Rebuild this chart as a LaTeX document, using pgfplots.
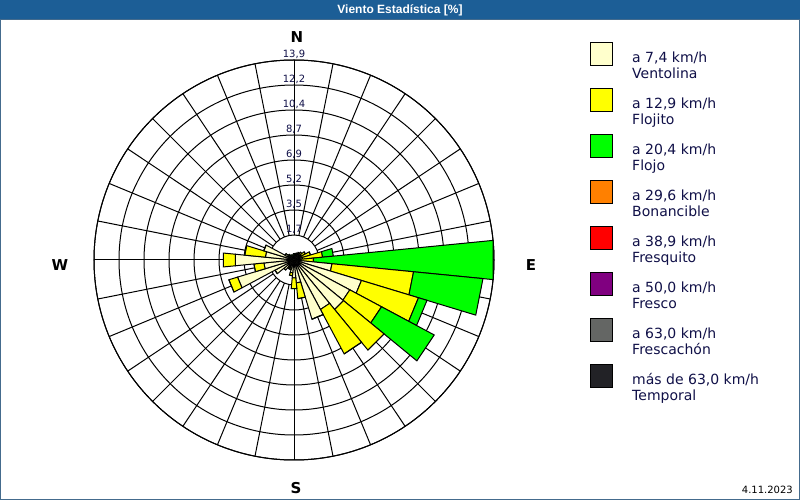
\documentclass[border=0pt]{standalone}
\usepackage{pgfplots}
\pgfplotsset{compat=1.18}
\usepackage{pgfplotstable}
\usepgfplotslibrary{polar}
\usepackage{fontspec}
\setmainfont{DejaVu Sans}
\newfontfamily\capfont{Liberation Sans}

\definecolor{cVent}{RGB}{255,255,204}
\definecolor{cFlojito}{RGB}{255,255,0}
\definecolor{cFlojo}{RGB}{0,255,0}
\definecolor{cBonan}{RGB}{255,128,0}
\definecolor{cFresq}{RGB}{255,0,0}
\definecolor{cFresco}{RGB}{128,0,128}
\definecolor{cFrescach}{RGB}{100,102,100}
\definecolor{cTemp}{RGB}{34,34,38}
\definecolor{txt}{RGB}{16,16,72}
\definecolor{titlebar}{RGB}{28,94,150}

% share in % per direction (0 = N, clockwise, 32 sectors) and speed class
% v: ventolina, f: flojito, F: flojo
\pgfplotstableread{
dir v    f    F
0   0.35 0.10 0
1   0.35 0.10 0
2   0.40 0.10 0
3   0.45 0.15 0
4   0.50 0.20 0
5   0.55 0.35 0
6   0.55 0.65 0
7   0.60 1.40 0.75
8   0.50 0.85 12.55
9   2.65 5.70 4.85
10  4.90 4.14 0.62
11  4.40 2.50 4.15
12  4.45 3.65 0
13  3.90 3.50 0
14  4.30 0    0
15  1.60 1.10 0
16  1.25 0.75 0
17  0.90 0.20 0
18  0.60 0.10 0
19  0.60 0.10 0
20  0.90 0    0
21  1.50 0    0
22  4.10 0.63 0
23  2.10 0.70 0
24  4.10 0.83 0
25  2.00 1.44 0
26  2.20 0    0
27  0.70 0    0
28  0.50 0    0
29  0.40 0    0
30  0.35 0    0
31  0.35 0    0
}\rose

\begin{document}
\begin{tikzpicture}[x=1pt,y=1pt]
\useasboundingbox (0,0) rectangle (800,500);
\fill[white] (0,0) rectangle (800,500);
\fill[titlebar] (0,480) rectangle (800,500);
\node[white, font=\capfont\bfseries\fontsize{12}{14}\selectfont] at (400,490) {Viento Estadística [\%]};
\draw[titlebar!60!gray, line width=1pt] (0.5,0.5) rectangle (799.5,480);

\begin{polaraxis}[
  at={(294pt,240pt)}, anchor=center,
  scale only axis, width=400pt, height=400pt,
  ymin=0, ymax=13.9,
  xtick=\empty,
  ytick={1.7375,3.475,5.2125,6.95,8.6875,10.425,12.1625,13.9},
  yticklabels={},
  ymajorgrids=true,
  major tick length=0pt,
  major grid style={black, line width=1pt},
  axis line style={black, line width=1pt},
  clip=false,
]
% spokes, from the first ring outwards
\pgfplotsinvokeforeach{0,...,31}{
  \draw[black, line width=1pt] (axis cs:{11.25*#1},1.7375) -- (axis cs:{11.25*#1},13.9);
}
% stacked sectors
\pgfplotsinvokeforeach{0,...,31}{
  \pgfplotstablegetelem{#1}{v}\of\rose \pgfmathsetmacro\rv{\pgfplotsretval}
  \pgfplotstablegetelem{#1}{f}\of\rose \pgfmathsetmacro\rf{\rv+\pgfplotsretval}
  \pgfplotstablegetelem{#1}{F}\of\rose \pgfmathsetmacro\rF{\rf+\pgfplotsretval}
  \pgfmathsetmacro\aa{90-11.25*#1-5.625}
  \pgfmathsetmacro\ab{90-11.25*#1+5.625}
  \edef\seg{
    \noexpand\addplot[fill=cVent, draw=black, line width=1pt] coordinates {(\aa,0) (\aa,\rv) (\ab,\rv) (\ab,0)} -- cycle;
    \noexpand\addplot[fill=cFlojito, draw=black, line width=1pt] coordinates {(\aa,\rv) (\aa,\rf) (\ab,\rf) (\ab,\rv)} -- cycle;
    \noexpand\addplot[fill=cFlojo, draw=black, line width=1pt] coordinates {(\aa,\rf) (\aa,\rF) (\ab,\rF) (\ab,\rf)} -- cycle;
  }
  \seg
}
% ring labels along north spoke
\foreach \r/\t in {1.7375/{1,7},3.475/{3,5},5.2125/{5,2},6.95/{6,9},8.6875/{8,7},10.425/{10,4},12.1625/{12,2},13.9/{13,9}}{
  \edef\lab{\noexpand\node[anchor=base, inner sep=0pt, yshift=2pt, text=txt, font=\noexpand\fontsize{10}{12}\noexpand\selectfont] at (axis cs:90,\r) {\t};}
  \lab
}
\end{polaraxis}

% compass letters
\begin{scope}[every node/.style={font=\bfseries\fontsize{15}{18}\selectfont, text=black}]
\node at (297,463) {N};
\node at (531,235) {E};
\node at (296,12) {S};
\node at (60,235) {W};
\end{scope}

% legend
\foreach \k/\c/\a/\b in {0/cVent/{a 7,4 km/h}/{Ventolina},
  1/cFlojito/{a 12,9 km/h}/{Flojito},
  2/cFlojo/{a 20,4 km/h}/{Flojo},
  3/cBonan/{a 29,6 km/h}/{Bonancible},
  4/cFresq/{a 38,9 km/h}/{Fresquito},
  5/cFresco/{a 50,0 km/h}/{Fresco},
  6/cFrescach/{a 63,0 km/h}/{Frescachón},
  7/cTemp/{más de 63,0 km/h}/{Temporal}}{
  \draw[fill=\c, draw=black, line width=1pt] (590.5,{457-46*\k}) rectangle (612.5,{434-46*\k});
  \node[anchor=base west, inner sep=0pt, text=txt, font=\fontsize{14}{16}\selectfont] at (632,{437-46*\k}) {\a};
  \node[anchor=base west, inner sep=0pt, text=txt, font=\fontsize{14}{16}\selectfont] at (632,{421-46*\k}) {\b};
}

\node[anchor=base east, inner sep=0pt, text=black, font=\fontsize{10}{12}\selectfont] at (793,6) {4.11.2023};
\end{tikzpicture}
\end{document}
